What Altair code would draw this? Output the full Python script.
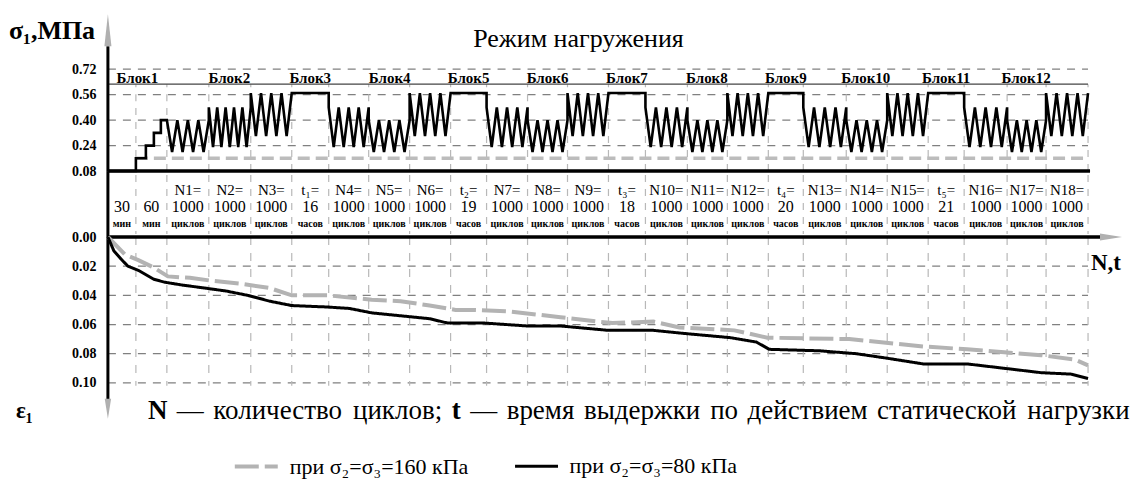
import altair as alt
import pandas as pd

FONT = "'Liberation Serif', 'Times New Roman', 'DejaVu Serif', serif"

# ---------------- data ----------------
# widths of the table columns (x axis is schematic: 1 unit = 1 px)
col_widths = [28, 31, 42, 42, 41, 37, 40, 41, 41, 36, 41, 40, 41, 37, 42, 40, 41, 35, 43, 41, 41, 36, 43, 39, 42]
col_block = [1, 1, 2, 2, 2, 3, 4, 4, 4, 5, 6, 6, 6, 7, 8, 8, 8, 9, 10, 10, 10, 11, 12, 12, 12]
col_kind = ["const", "ramp", "small", "medium", "large", "hold",
            "medium", "small", "large", "hold",
            "medium", "small", "large", "hold",
            "medium", "small", "large", "hold",
            "medium", "small", "large", "hold",
            "medium", "small", "large"]
col_cycles = [0, 0, 4, 5, 4, 0, 4, 4, 4, 0, 4, 4, 4, 0, 4, 4, 4, 0, 4, 4, 4, 0, 4, 4, 4]
col_row1 = ["", "", "N1=", "N2=", "N3=", "t₁=", "N4=", "N5=", "N6=", "t₂=", "N7=", "N8=", "N9=", "t₃=",
            "N10=", "N11=", "N12=", "t₄=", "N13=", "N14=", "N15=", "t₅=", "N16=", "N17=", "N18="]
col_row2 = ["30", "60", "1000", "1000", "1000", "16", "1000", "1000", "1000", "19", "1000", "1000", "1000", "18",
            "1000", "1000", "1000", "20", "1000", "1000", "1000", "21", "1000", "1000", "1000"]
col_row3 = ["мин", "мин", "циклов", "циклов", "циклов", "часов", "циклов", "циклов", "циклов", "часов",
            "циклов", "циклов", "циклов", "часов", "циклов", "циклов", "циклов", "часов",
            "циклов", "циклов", "циклов", "часов", "циклов", "циклов", "циклов"]

sigma_ticks = [0.08, 0.24, 0.40, 0.56, 0.72]
sigma3_low = 0.08
sigma3_high = 0.16
ramp_levels = [0.16, 0.24, 0.32, 0.40]
ramp_offsets = [0, 10, 18, 25]
kind_low = {"small": 0.20, "medium": 0.23, "large": 0.30}
kind_high = {"small": 0.40, "medium": 0.48, "large": 0.57}
hold_level = 0.57
block_line = 0.626

eps_ticks = [0.00, 0.02, 0.04, 0.06, 0.08, 0.10]

s80_x = [0, 6, 13, 20, 31, 46, 57, 75, 97, 118, 140, 162, 184, 220, 242, 264, 293, 322, 340, 377, 420,
         453, 501, 546, 575, 623, 649, 662, 712, 749, 779, 816, 860, 897, 934, 964, 981]
s80_y = [0.0, 0.0096, 0.015, 0.020, 0.023, 0.029, 0.031, 0.033, 0.035, 0.037, 0.040, 0.044, 0.047, 0.048,
         0.049, 0.052, 0.054, 0.056, 0.059, 0.059, 0.061, 0.061, 0.064, 0.064, 0.066, 0.069, 0.072, 0.077,
         0.078, 0.080, 0.083, 0.087, 0.087, 0.090, 0.093, 0.094, 0.097]
s160_x = [0, 17, 31, 46, 60, 82, 104, 133, 162, 184, 220, 264, 293, 322, 348, 366, 402, 453, 490, 505,
          546, 572, 627, 660, 742, 786, 816, 860, 897, 934, 968, 981]
s160_y = [0.0, 0.012, 0.016, 0.021, 0.027, 0.028, 0.030, 0.032, 0.035, 0.040, 0.040, 0.043, 0.044, 0.047,
          0.050, 0.050, 0.051, 0.055, 0.058, 0.059, 0.058, 0.062, 0.064, 0.069, 0.070, 0.073, 0.075, 0.077,
          0.079, 0.081, 0.084, 0.088]

lab160 = "при σ₂=σ₃=160 кПа"
lab80 = "при σ₂=σ₃=80 кПа"

foot_words = ["N", "—", "количество", "циклов;", "t", "—", "время", "выдержки", "по", "действием",
              "статической", "нагрузки"]
foot_bold = [True, False, False, False, True, False, False, False, False, False, False, False]

# ---------------- derived tables ----------------
bounds = [0]
for w in col_widths:
    bounds.append(bounds[-1] + w)
x_end = bounds[-1]

cols = pd.DataFrame({"x0": bounds[:-1], "x1": bounds[1:], "block": col_block,
                     "r1": col_row1, "r2": col_row2, "r3": col_row3})
cols["xc"] = (cols["x0"] + cols["x1"]) / 2
blocks = cols.groupby("block").agg(x0=("x0", "min"), x1=("x1", "max")).reset_index()
blocks["xc"] = (blocks["x0"] + blocks["x1"]) / 2
blocks["label"] = ["Блок" + str(b) for b in blocks["block"]]

sig = []
for i, kind in enumerate(col_kind):
    x0, x1 = bounds[i], bounds[i + 1]
    if kind == "const":
        sig += [(x0, sigma3_low), (x1, sigma3_low)]
    elif kind == "ramp":
        prev = sigma3_low
        for off, lv in zip(ramp_offsets, ramp_levels):
            sig += [(x0 + off, prev), (x0 + off, lv)]
            prev = lv
        sig.append((x1, prev))
    elif kind == "hold":
        sig += [(x0, hold_level), (x1, hold_level)]
    else:
        lo, hi = kind_low[kind], kind_high[kind]
        n = col_cycles[i]
        p = (x1 - x0) / n
        sig.append((x0, hi))
        for k in range(n):
            sig += [(x0 + (k + 0.5) * p, lo), (x0 + (k + 1) * p, hi)]
signal = pd.DataFrame(sig, columns=["x", "y"])
signal["o"] = range(len(signal))

curves = pd.concat([
    pd.DataFrame({"x": s160_x, "y": s160_y, "series": lab160, "o": range(len(s160_x))}),
    pd.DataFrame({"x": s80_x, "y": s80_y, "series": lab80, "o": range(len(s80_x))}),
])

# ---------------- layout constants ----------------
W = 1020
H1, H2, H3 = 162, 66, 179
xs = alt.Scale(domain=[0, W], nice=False, zero=False)
ys1 = alt.Scale(domain=[0.08, 1.0965], nice=False, zero=False)
ys2 = alt.Scale(domain=[0, H2], nice=False, zero=False, reverse=True)
ys3 = alt.Scale(domain=[0, 0.1226], nice=False, zero=False, reverse=True)

GRID_DARK = "#808080"
GRID_LIGHT = "#b8b8b8"
ARROW = "#b0b0b0"

# horizontal placement of the footnote words (layout, px from the plot's left edge)
foot_pos = [40, 69, 105.5, 245.3, 344.1, 362.6, 399.1, 476.5, 602.8, 640.2, 769.8, 920.2]


def ax(values):
    return alt.Axis(values=values, format=".2f", domain=False, ticks=False, grid=False, title=None,
                    labelFont=FONT, labelFontWeight="bold", labelFontSize=14, labelPadding=12,
                    labelColor="black")


def X(field="x"):
    return alt.X(f"{field}:Q", scale=xs, axis=None)


def Y1(field="y"):
    return alt.Y(f"{field}:Q", scale=ys1, axis=ax(sigma_ticks))


def Y2(field="y"):
    return alt.Y(f"{field}:Q", scale=ys2, axis=None)


def Y3(field="y"):
    return alt.Y(f"{field}:Q", scale=ys3, axis=ax(eps_ticks))


# ---------------- top panel: loading regime ----------------
hg1 = alt.Chart(pd.DataFrame({"y": sigma_ticks[1:], "x0": 0, "x1": x_end})).mark_rule(
    color=GRID_DARK, strokeWidth=1.3, strokeDash=[8, 7]).encode(x=X("x0"), x2="x1", y=Y1())
vg1 = alt.Chart(pd.DataFrame({"x": bounds[1:], "y0": sigma3_low, "y1": block_line})).mark_rule(
    color=GRID_LIGHT, strokeWidth=1.2, strokeDash=[7, 7]).encode(x=X(), y=Y1("y0"), y2="y1")
bl = alt.Chart(pd.DataFrame({"y": [block_line], "x0": 0, "x1": x_end})).mark_rule(
    color="#444444", strokeWidth=1.2).encode(x=X("x0"), x2="x1", y=Y1())
s3 = alt.Chart(pd.DataFrame({"y": [sigma3_high], "x0": bounds[1], "x1": x_end})).mark_rule(
    color="#bcbcbc", strokeWidth=3.5, strokeDash=[12, 6]).encode(x=X("x0"), x2="x1", y=Y1())
b08 = alt.Chart(pd.DataFrame({"y": [sigma3_low], "x0": 0, "x1": x_end + 2})).mark_rule(
    color="black", strokeWidth=3.5).encode(x=X("x0"), x2="x1", y=Y1())
sigline = alt.Chart(signal).mark_line(color="black", strokeWidth=2.6, strokeJoin="miter").encode(
    x=X(), y=Y1(), order="o:Q")
blabels = alt.Chart(blocks.assign(y=0.632)).mark_text(
    font=FONT, fontSize=15, fontWeight="bold", baseline="alphabetic", align="center", color="black").encode(
    x=X("xc"), y=Y1(), text="label:N")
title = alt.Chart(pd.DataFrame({"x": [471], "y": [0.908], "t": ["Режим нагружения"]})).mark_text(
    font=FONT, fontSize=26, baseline="middle", align="center", color="black").encode(
    x=X(), y=Y1(), text="t:N")
slab = alt.Chart(pd.DataFrame({"y": [0.958], "t": ["σ₁,МПа"]})).mark_text(
    font=FONT, fontSize=26, fontWeight="bold", baseline="middle", align="left", color="black").encode(
    x=alt.value(-99), y=Y1(), text="t:N")
saxis = alt.Chart(pd.DataFrame({"x": [0], "y0": [sigma3_low], "y1": [0.864]})).mark_rule(
    color="black", strokeWidth=3).encode(x=X(), y=Y1("y0"), y2="y1")
sarrow = alt.Chart(pd.DataFrame({"x": [0], "y": [0.965]})).mark_point(
    shape="M0,-1L0.22,1L-0.22,1Z", size=1024, filled=True, color=ARROW, opacity=1).encode(x=X(), y=Y1())

top = alt.layer(hg1, vg1, bl, s3, b08, sigline, blabels, title, slab, saxis, sarrow).properties(
    width=W, height=H1)

# ---------------- table panel ----------------
row_y = {"r1": 19, "r2": 36, "r3": 53}
tleft = alt.Chart(pd.DataFrame({"x": [0], "y0": [0], "y1": [H2]})).mark_rule(
    color="black", strokeWidth=3).encode(x=X(), y=Y2("y0"), y2="y1")
tvg = alt.Chart(pd.DataFrame({"x": bounds[1:], "y0": 4, "y1": H2 - 3})).mark_rule(
    color=GRID_LIGHT, strokeWidth=1.2, strokeDash=[7, 7]).encode(x=X(), y=Y2("y0"), y2="y1")
t1 = alt.Chart(cols.assign(y=row_y["r1"])).mark_text(
    font=FONT, fontSize=15, baseline="middle", align="center", color="black").encode(
    x=X("xc"), y=Y2(), text="r1:N")
t2 = alt.Chart(cols.assign(y=row_y["r2"])).mark_text(
    font=FONT, fontSize=16, baseline="middle", align="center", color="black").encode(
    x=X("xc"), y=Y2(), text="r2:N")
t3 = alt.Chart(cols.assign(y=row_y["r3"])).mark_text(
    font=FONT, fontSize=10, fontWeight="bold", baseline="middle", align="center", color="black").encode(
    x=X("xc"), y=Y2(), text="r3:N")
table = alt.layer(tleft, tvg, t1, t2, t3).properties(width=W, height=H2)

# ---------------- strain panel ----------------
hg3 = alt.Chart(pd.DataFrame({"y": eps_ticks[1:], "x0": 0, "x1": x_end})).mark_rule(
    color=GRID_DARK, strokeWidth=1.3, strokeDash=[8, 7]).encode(x=X("x0"), x2="x1", y=Y3())
vg3 = alt.Chart(pd.DataFrame({"x": bounds[1:], "y0": 0.0, "y1": 0.102})).mark_rule(
    color=GRID_LIGHT, strokeWidth=1.2, strokeDash=[8, 8]).encode(x=X(), y=Y3("y0"), y2="y1")
xaxis = alt.Chart(pd.DataFrame({"y": [0.0], "x0": [0], "x1": [993]})).mark_rule(
    color="black", strokeWidth=3.5).encode(x=X("x0"), x2="x1", y=Y3())
xarrow = alt.Chart(pd.DataFrame({"x": [1004], "y": [0.0]})).mark_point(
    shape="M1,0L-1,-0.32L-1,0.32Z", size=484, filled=True, color=ARROW, opacity=1).encode(x=X(), y=Y3())
eaxis = alt.Chart(pd.DataFrame({"x": [0], "y0": [0.0], "y1": [0.1123]})).mark_rule(
    color="black", strokeWidth=3).encode(x=X(), y=Y3("y0"), y2="y1")
earrow = alt.Chart(pd.DataFrame({"x": [0], "y": [0.1178]})).mark_point(
    shape="M0,1L-0.32,-1L0.32,-1Z", size=400, filled=True, color=ARROW, opacity=1).encode(x=X(), y=Y3())

leg = alt.Legend(orient="none", legendX=125, legendY=206, direction="horizontal", title=None,
                 symbolType="stroke", symbolSize=1849, symbolStrokeWidth=4, labelFont=FONT,
                 labelFontSize=22, labelColor="black", labelOffset=10, columnPadding=40,
                 padding=0, labelLimit=0)
dom = [lab160, lab80]
lines = alt.Chart(curves).mark_line(strokeCap="butt").encode(
    x=X(), y=Y3(), order="o:Q",
    color=alt.Color("series:N", scale=alt.Scale(domain=dom, range=["#b3b3b3", "black"]), legend=leg),
    strokeDash=alt.StrokeDash("series:N", scale=alt.Scale(domain=dom, range=[[24, 6], [1, 0]]), legend=leg),
    strokeWidth=alt.StrokeWidth("series:N", scale=alt.Scale(domain=dom, range=[4, 3]), legend=None),
)
elab = alt.Chart(pd.DataFrame({"y": [0.1195], "t": ["ε₁"]})).mark_text(
    font=FONT, fontSize=23, fontWeight="bold", baseline="middle", align="left", color="black").encode(
    x=alt.value(-92), y=Y3(), text="t:N")
ntlab = alt.Chart(pd.DataFrame({"x": [984], "y": [0.0178], "t": ["N,t"]})).mark_text(
    font=FONT, fontSize=23, fontWeight="bold", baseline="middle", align="left", color="black").encode(
    x=X(), y=Y3(), text="t:N")
foot = pd.DataFrame({"x": foot_pos, "t": foot_words, "b": foot_bold, "y": 0.1195})
foot_b = alt.Chart(foot[foot.b]).mark_text(
    font=FONT, fontSize=27, fontWeight="bold", baseline="middle", align="left", color="black").encode(
    x=X(), y=Y3(), text="t:N")
foot_n = alt.Chart(foot[~foot.b]).mark_text(
    font=FONT, fontSize=27, baseline="middle", align="left", color="black").encode(
    x=X(), y=Y3(), text="t:N")

bottom = alt.layer(hg3, vg3, xaxis, xarrow, eaxis, earrow, lines, elab, ntlab, foot_b, foot_n).properties(
    width=W, height=H3)

chart = alt.vconcat(top, table, bottom, spacing=0, bounds="flush").resolve_scale(
    color="independent", strokeDash="independent", strokeWidth="independent"
).resolve_legend(color="independent", strokeDash="independent").properties(
    padding=0
).configure_view(stroke="transparent")

chart.save("out.html", embed_options={"renderer": "svg", "actions": False})
